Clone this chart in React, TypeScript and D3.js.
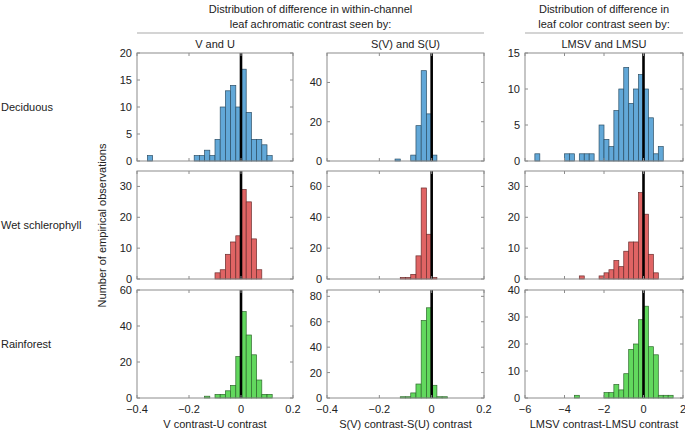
import React from "react";
import * as d3 from "d3";

// ---------- data ----------
const rowLabels = ["Deciduous", "Wet schlerophyll", "Rainforest"];
const colTitles = ["V and U", "S(V) and S(U)", "LMSV and LMSU"];
const xLabels = ["V contrast-U contrast", "S(V) contrast-S(U) contrast", "LMSV contrast-LMSU contrast"];
const header1 = ["Distribution of difference in within-channel", "leaf achromatic contrast seen by:"];
const header2 = ["Distribution of difference in", "leaf color contrast seen by:"];
const yAxisLabel = "Number of empirical observations";

const achroDomain = [-0.4, 0.2];
const achroTicks = [-0.4, -0.2, 0, 0.2];
const colorDomain = [-6, 2];
const colorTicks = [-6, -4, -2, 0, 2];
const achroBinWidth = 0.02;
const colorBinWidth = 0.25;

// Deciduous
const decVUEdges = [-0.36, -0.18, -0.16, -0.14, -0.12, -0.10, -0.08, -0.06, -0.04, -0.02, 0, 0.02, 0.04, 0.06, 0.08, 0.10];
const decVUCounts = [1, 1, 1, 2, 1, 4, 10, 13, 14, 10, 17, 9, 4, 4, 3, 1];
const decSEdges = [-0.14, -0.08, -0.06, -0.04, -0.02, 0];
const decSCounts = [1, 3, 18, 46, 24, 3];
const decLMSEdges = [-5.5, -4, -3.75, -3.25, -3, -2.75, -2.25, -2, -1.75, -1.5, -1.25, -1, -0.75, -0.5, -0.25, 0, 0.25, 0.5, 0.75];
const decLMSCounts = [1, 1, 1, 1, 1, 1, 5, 3, 2, 7, 10, 13, 8, 10, 12, 10, 6, 1, 2];

// Wet schlerophyll
const wetVUEdges = [-0.1, -0.08, -0.06, -0.04, -0.02, 0, 0.02, 0.04, 0.06];
const wetVUCounts = [2, 3, 8, 12, 14, 29, 25, 13, 3];
const wetSEdges = [-0.12, -0.1, -0.08, -0.06, -0.04, -0.02, 0];
const wetSCounts = [1, 1, 3, 15, 59, 29, 1];
const wetLMSEdges = [-3.25, -2.25, -2, -1.75, -1.5, -1.25, -1, -0.75, -0.5, -0.25, 0, 0.25, 0.5];
const wetLMSCounts = [1, 1, 2, 3, 6, 4, 9, 12, 12, 28, 21, 8, 2];

// Rainforest
const rainVUEdges = [-0.14, -0.1, -0.08, -0.06, -0.04, -0.02, 0, 0.02, 0.04, 0.06, 0.08, 0.1];
const rainVUCounts = [1, 2, 2, 4, 7, 23, 48, 35, 24, 10, 2, 2];
const rainSEdges = [-0.12, -0.1, -0.08, -0.06, -0.04, -0.02, 0, 0.02, 0.04];
const rainSCounts = [1, 1, 4, 11, 61, 71, 10, 1, 1];
const rainLMSEdges = [-3.5, -2, -1.75, -1.5, -1.25, -1, -0.75, -0.5, -0.25, 0, 0.25, 0.5, 0.75, 1, 1.25];
const rainLMSCounts = [1, 2, 2, 5, 3, 9, 18, 20, 29, 34, 19, 16, 1, 1, 1];

const yMaxes = [
  [20, 55, 15],
  [35, 70, 35],
  [60, 85, 40],
];
const yTicks = [
  [[0, 5, 10, 15, 20], [0, 20, 40], [0, 5, 10, 15]],
  [[0, 10, 20, 30], [0, 20, 40, 60], [0, 10, 20, 30]],
  [[0, 20, 40, 60], [0, 20, 40, 60, 80], [0, 10, 20, 30, 40]],
];

const panelEdges = [
  [decVUEdges, decSEdges, decLMSEdges],
  [wetVUEdges, wetSEdges, wetLMSEdges],
  [rainVUEdges, rainSEdges, rainLMSEdges],
];
const panelCounts = [
  [decVUCounts, decSCounts, decLMSCounts],
  [wetVUCounts, wetSCounts, wetLMSCounts],
  [rainVUCounts, rainSCounts, rainLMSCounts],
];

// ---------- styles / layout ----------
const W = 685;
const H = 434;
const colX = [
  [137, 293],
  [327, 484],
  [525, 683],
];
const rowY = [
  [53, 161],
  [171, 279],
  [290, 398],
];
const fills = ["#62a8d8", "#e06464", "#62d85e"];
const strokes = ["#2c4f66", "#6a2e2e", "#2e6a2c"];
const FONT = "'Liberation Sans', Arial, Helvetica, sans-serif";
const textColor = "#222";
const boxColor = "#8c8c8c";

const fmt = (v: number) => (v < 0 ? "\u2212" + String(Math.abs(v)) : String(v));

function Panel({ r, c }: { r: number; c: number }) {
  const [x0, x1] = colX[c];
  const [y0, y1] = rowY[r];
  const isColor = c === 2;
  const dom = isColor ? colorDomain : achroDomain;
  const xt = isColor ? colorTicks : achroTicks;
  const bw = isColor ? colorBinWidth : achroBinWidth;
  const x = d3.scaleLinear().domain(dom).range([x0, x1]);
  const y = d3.scaleLinear().domain([0, yMaxes[r][c]]).range([y1, y0]);
  const edges = panelEdges[r][c];
  const counts = panelCounts[r][c];
  const tl = 3;
  return (
    <g>
      {edges.map((e, i) => (
        <rect
          key={i}
          x={x(e)}
          y={y(counts[i])}
          width={x(e + bw) - x(e)}
          height={y(0) - y(counts[i])}
          fill={fills[r]}
          stroke={strokes[r]}
          strokeWidth={0.7}
        />
      ))}
      <line x1={x(0)} x2={x(0)} y1={y0} y2={y1} stroke="#000" strokeWidth={2.6} />
      <rect x={x0} y={y0} width={x1 - x0} height={y1 - y0} fill="none" stroke={boxColor} strokeWidth={1} />
      {xt.map((t) => (
        <g key={"xt" + t}>
          <line x1={x(t)} x2={x(t)} y1={y1} y2={y1 - tl} stroke={boxColor} />
          <line x1={x(t)} x2={x(t)} y1={y0} y2={y0 + tl} stroke={boxColor} />
          {r === 2 && (
            <text x={x(t)} y={y1 + 15} textAnchor="middle" fontSize={11} fill={textColor} fontFamily={FONT}>
              {fmt(t)}
            </text>
          )}
        </g>
      ))}
      {yTicks[r][c].map((t) => (
        <g key={"yt" + t}>
          <line x1={x0} x2={x0 + tl} y1={y(t)} y2={y(t)} stroke={boxColor} />
          <line x1={x1} x2={x1 - tl} y1={y(t)} y2={y(t)} stroke={boxColor} />
          <text x={x0 - 5} y={y(t) + 4} textAnchor="end" fontSize={11} fill={textColor} fontFamily={FONT}>
            {fmt(t)}
          </text>
        </g>
      ))}
    </g>
  );
}

export default function App() {
  const rows = [0, 1, 2];
  const cols = [0, 1, 2];
  const h1cx = (colX[0][0] + colX[1][1]) / 2;
  const h2cx = (colX[2][0] + colX[2][1]) / 2;
  return (
    <div style={{ position: "absolute", left: 0, top: 0 }}>
      <svg width={W} height={H} style={{ display: "block", background: "#fff" }}>
        {/* headers */}
        <text x={h1cx} y={13} textAnchor="middle" fontSize={11} fill={textColor} fontFamily={FONT}>{header1[0]}</text>
        <text x={h1cx} y={28} textAnchor="middle" fontSize={11} fill={textColor} fontFamily={FONT}>{header1[1]}</text>
        <text x={h2cx} y={13} textAnchor="middle" fontSize={11} fill={textColor} fontFamily={FONT}>{header2[0]}</text>
        <text x={h2cx} y={28} textAnchor="middle" fontSize={11} fill={textColor} fontFamily={FONT}>{header2[1]}</text>
        <line x1={colX[0][0]} x2={colX[1][1]} y1={33} y2={33} stroke="#aaa" strokeWidth={1.2} />
        <line x1={colX[2][0]} x2={colX[2][1]} y1={33} y2={33} stroke="#aaa" strokeWidth={1.2} />
        {cols.map((c) => (
          <text key={"ct" + c} x={(colX[c][0] + colX[c][1]) / 2} y={48} textAnchor="middle" fontSize={11} fill={textColor} fontFamily={FONT}>
            {colTitles[c]}
          </text>
        ))}
        {rows.map((r) => (
          <text key={"rl" + r} x={1} y={(rowY[r][0] + rowY[r][1]) / 2 + 4} fontSize={11} fill={textColor} fontFamily={FONT}>
            {rowLabels[r]}
          </text>
        ))}
        <text
          transform={`translate(${106},${(rowY[0][0] + rowY[2][1]) / 2}) rotate(-90)`}
          textAnchor="middle"
          fontSize={11}
          fill={textColor}
          fontFamily={FONT}
        >
          {yAxisLabel}
        </text>
        {rows.map((r) => cols.map((c) => <Panel key={r + "-" + c} r={r} c={c} />))}
        {cols.map((c) => (
          <text key={"xl" + c} x={(colX[c][0] + colX[c][1]) / 2} y={428} textAnchor="middle" fontSize={11} fill={textColor} fontFamily={FONT}>
            {xLabels[c]}
          </text>
        ))}
      </svg>
    </div>
  );
}
